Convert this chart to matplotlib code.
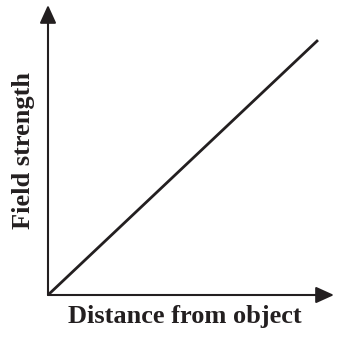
import matplotlib
matplotlib.use("Agg")
import matplotlib.pyplot as plt

# line through the origin, arbitrary units
distance = [0.0, 9.44]
field    = [0.0, 8.79]

X_LABEL = "Distance from object"
Y_LABEL = "Field strength"

W = H = 339
fig = plt.figure(figsize=(W / 100, H / 100), dpi=100)
ax = fig.add_axes([48 / W, 44 / H, 286 / W, 290 / H])

ax.plot(distance, field, color="#231f20", linewidth=2.0, solid_capstyle="butt")
ax.set_xlim(0, 10)
ax.set_ylim(0, 10)

for s in ax.spines.values():
    s.set_visible(False)
ax.set_xticks([])
ax.set_yticks([])

# axes with arrowheads
arrow = dict(arrowstyle="-|>,head_length=0.55,head_width=0.25", color="#231f20",
             linewidth=1.5, mutation_scale=20, shrinkA=0, shrinkB=0)
ax.annotate("", xy=(1, 0), xytext=(0, 0), xycoords="axes fraction",
            arrowprops=arrow, annotation_clip=False)
ax.annotate("", xy=(0, 1), xytext=(0, 0), xycoords="axes fraction",
            arrowprops=arrow, annotation_clip=False)

font = dict(family="Liberation Serif", weight="bold", size=19, color="#231f20")
fig.text(185 / W, 1 - 316 / H, X_LABEL, ha="center", va="center", **font)
fig.text(24 / W, 1 - 151 / H, Y_LABEL, ha="center", va="center", rotation=90, **font)

fig.savefig("out.png", dpi=100)
